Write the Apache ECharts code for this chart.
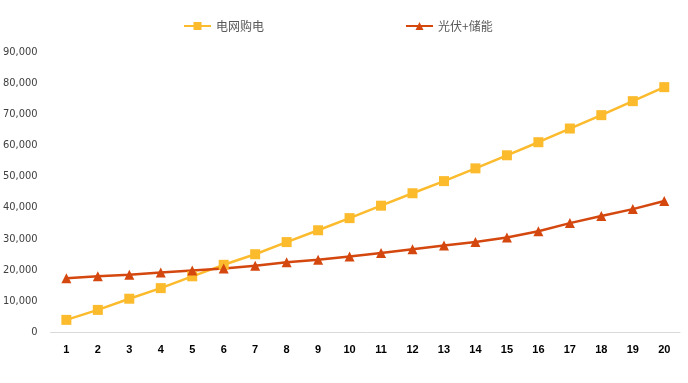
<!DOCTYPE html>
<html><head><meta charset="utf-8">
<script src="https://cdn.jsdelivr.net/npm/echarts@6/dist/echarts.min.js"></script>
<style>html,body{margin:0;padding:0;background:#fff}#c{width:688px;height:383px}</style>
</head><body><div id="c"></div>
<script>
const categories = ['1','2','3','4','5','6','7','8','9','10','11','12','13','14','15','16','17','18','19','20'];
const gridPower = [3900,7100,10700,14100,17900,21600,25000,28900,32700,36600,40600,44600,48500,52600,56800,61000,65400,69700,74200,78700];
const pvStorage = [17300,17900,18400,19100,19800,20400,21300,22400,23200,24300,25400,26600,27800,28900,30400,32400,35000,37300,39500,42100];
const yTicks = {min:0, max:90000, interval:10000};
const names = ['电网购电','光伏+储能'];

const chart = echarts.init(document.getElementById('c'));
const fmt = v => v === 0 ? '0' : v.toLocaleString('en-US');
chart.setOption({
  animation:false,
  legend:{
    top:15, left:178, itemGap:141, itemWidth:27, itemHeight:10,
    textStyle:{color:'#595959', fontSize:12, fontFamily:'Noto Sans CJK SC'},
    data:names
  },
  grid:{left:47, right:8, top:52, bottom:51},
  xAxis:{
    type:'category', data:categories, boundaryGap:true,
    axisLine:{lineStyle:{color:'#d9d9d9', width:1}},
    axisTick:{show:false},
    axisLabel:{color:'#000', fontWeight:'bold', fontSize:11, margin:12, fontFamily:'Liberation Sans'}
  },
  yAxis:{
    type:'value', min:yTicks.min, max:yTicks.max, interval:yTicks.interval,
    splitLine:{show:false}, axisLine:{show:false}, axisTick:{show:false},
    axisLabel:{color:'#404040', fontSize:11, margin:13, formatter:fmt, fontFamily:'DejaVu Sans Condensed, Liberation Sans'}
  },
  series:[
    {name:names[0], type:'line', data:gridPower, symbol:'rect', symbolSize:10,
     lineStyle:{color:'#FBBB2D', width:2.5}, itemStyle:{color:'#FBBB2D'}},
    {name:names[1], type:'line', data:pvStorage, symbol:'triangle', symbolSize:10,
     lineStyle:{color:'#D4470E', width:2.5}, itemStyle:{color:'#D4470E'}}
  ]
});
</script></body></html>
